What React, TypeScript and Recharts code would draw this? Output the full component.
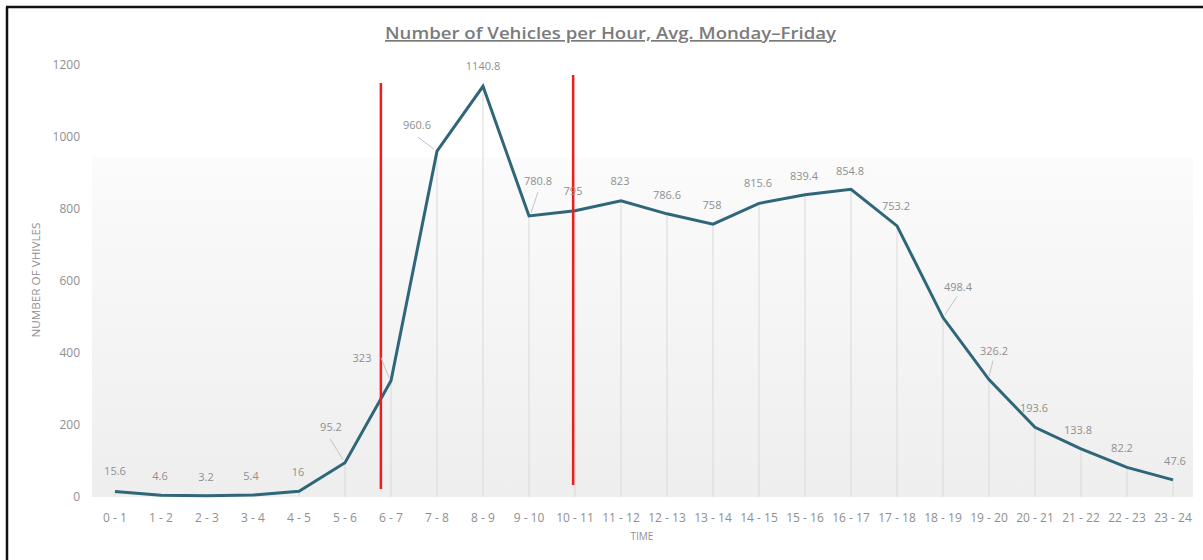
import React from 'react';
import { ComposedChart, Line, XAxis, YAxis, CartesianGrid, ReferenceLine, LabelList } from 'recharts';

// ---- data ----
const hours = [
  '0 - 1', '1 - 2', '2 - 3', '3 - 4', '4 - 5', '5 - 6', '6 - 7', '7 - 8', '8 - 9', '9 - 10', '10 - 11', '11 - 12',
  '12 - 13', '13 - 14', '14 - 15', '15 - 16', '16 - 17', '17 - 18', '18 - 19', '19 - 20', '20 - 21', '21 - 22', '22 - 23', '23 - 24',
];
const vehicles = [
  15.6, 4.6, 3.2, 5.4, 16, 95.2, 323, 960.6, 1140.8, 780.8, 795, 823,
  786.6, 758, 815.6, 839.4, 854.8, 753.2, 498.4, 326.2, 193.6, 133.8, 82.2, 47.6,
];
const yTicks = [0, 200, 400, 600, 800, 1000, 1200];
// red annotation markers (position on the hour index axis, vertical extent in vehicles)
const markerAt = [5.78, 9.96];
const markerTop = [1150, 1172];
const markerBottom = [22, 33];

// ---- label layout (presentation only) ----
const labelDx = [0, -1, -1, -2, -1, -14, -29, -20, 0, 9, -2, -1, 0, -1, -1, -1, -1, -1, 15, 5, -1, -3, -5, 2];
const labelDy = [-19, -18, -18, -18, -18, -35, -22, -25, -19, -34, -19, -19, -18, -18, -19, -18, -17, -19, -30, -28, -18, -18, -18, -18];
const leaders: Record<number, [number, number, number, number]> = {
  5: [-15, -24, -2, -3],
  6: [-10, -23, -2, -3],
  7: [-19, -14, -3, -2],
  9: [9, -24, 2, -3],
  18: [14, -21, 2, -3],
  19: [4, -19, 0, -3],
};

const rows = hours.map((h, i) => ({ hour: h, idx: i, vehicles: vehicles[i] }));

const FONT = '"Open Sans", "Noto Sans", sans-serif';
const GRAY = '#8f8f8f';

function DataLabel(props: any) {
  const x = props.x ?? props.viewBox?.x;
  const y = props.y ?? props.viewBox?.y;
  const value = props.value;
  let index = props.index;
  if (index === undefined || index === null) index = vehicles.indexOf(Number(value));
  const dx = labelDx[index] ?? 0;
  const dy = labelDy[index] ?? -18;
  const ld = leaders[index];
  return (
    <g>
      {ld && (
        <line x1={x + ld[0]} y1={y + ld[1]} x2={x + ld[2]} y2={y + ld[3]} stroke="#c4c4c4" strokeWidth={1} />
      )}
      <text
        x={x + dx}
        y={y + dy}
        textAnchor="middle"
        dominantBaseline="middle"
        fontFamily={FONT}
        fontSize={11}
        fill={GRAY}
      >
        {value}
      </text>
    </g>
  );
}

export default function App() {
  return (
    <div style={{ position: 'fixed', left: 0, top: 0, width: 1203, height: 560, background: '#ffffff', overflow: 'hidden' }}>
      <ComposedChart
        width={1203}
        height={560}
        data={rows}
        margin={{ top: 65, right: 10, bottom: 0, left: 0 }}
      >
        <defs>
          <linearGradient id="plotBg" x1="0" y1="0" x2="0" y2="1">
            <stop offset="0" stopColor="#ffffff" />
            <stop offset="0.21" stopColor="#ffffff" />
            <stop offset="0.22" stopColor="#fbfbfb" />
            <stop offset="1" stopColor="#eeeeee" />
          </linearGradient>
        </defs>
        <CartesianGrid fill="url(#plotBg)" horizontal={false} vertical={false} stroke="none" />
        <XAxis
          xAxisId="cat"
          dataKey="hour"
          type="category"
          scale="point"
          padding={{ left: 23, right: 20 }}
          height={63}
          axisLine={false}
          tickLine={false}
          tickSize={6}
          tickMargin={10}
          interval={0}
          tick={{ fontFamily: FONT, fontSize: 12, fill: GRAY }}
        />
        <XAxis
          xAxisId="num"
          dataKey="idx"
          type="number"
          domain={[0, 23]}
          padding={{ left: 23, right: 20 }}
          hide
        />
        <YAxis
          width={92}
          domain={[0, 1200]}
          ticks={yTicks}
          axisLine={false}
          tickLine={false}
          tickSize={6}
          tickMargin={6}
          tick={{ fontFamily: FONT, fontSize: 12, fill: GRAY }}
        />
        {rows.map((r) => (
          <ReferenceLine
            key={'drop' + r.idx}
            xAxisId="cat"
            segment={[{ x: r.hour, y: 0 }, { x: r.hour, y: r.vehicles }]}
            stroke="#d9d9d9"
            strokeWidth={1}
            ifOverflow="visible"
          />
        ))}
        <Line
          xAxisId="cat"
          type="linear"
          dataKey="vehicles"
          stroke="#2f6679"
          strokeWidth={3}
          dot={false}
          activeDot={false}
          isAnimationActive={false}
        >
          <LabelList dataKey="vehicles" content={<DataLabel />} />
        </Line>
        {markerAt.map((m, i) => (
          <ReferenceLine
            key={'marker' + i}
            xAxisId="num"
            segment={[{ x: m, y: markerBottom[i] }, { x: m, y: markerTop[i] }]}
            stroke="#ee1c1c"
            strokeWidth={2.5}
            ifOverflow="visible"
          />
        ))}
      </ComposedChart>
      <svg
        width={1203}
        height={560}
        style={{ position: 'absolute', left: 0, top: 0, pointerEvents: 'none' }}
      >
        <line x1={7} y1={7} x2={7} y2={560} stroke="#111" strokeWidth={2.5} />
        <line x1={6} y1={7} x2={1203} y2={7} stroke="#111" strokeWidth={2.5} />
        <text
          x={610.5}
          y={39}
          textAnchor="middle"
          fontFamily={FONT}
          fontWeight={600}
          fontSize={17}
          fill="#7b7b7b"
          textLength={451}
          lengthAdjust="spacingAndGlyphs"
          textDecoration="underline"
        >
          Number of Vehicles per Hour, Avg. Monday–Friday
        </text>
        <text
          x={0}
          y={0}
          transform="translate(37,280) rotate(-90)"
          textAnchor="middle"
          dominantBaseline="middle"
          fontFamily={FONT}
          fontSize={10}
          fill={GRAY}
          textLength={115}
          lengthAdjust="spacingAndGlyphs"
        >
          NUMBER OF VHIVLES
        </text>
        <text
          x={642}
          y={537}
          textAnchor="middle"
          dominantBaseline="middle"
          fontFamily={FONT}
          fontSize={10}
          fill={GRAY}
        >
          TIME
        </text>
      </svg>
    </div>
  );
}
